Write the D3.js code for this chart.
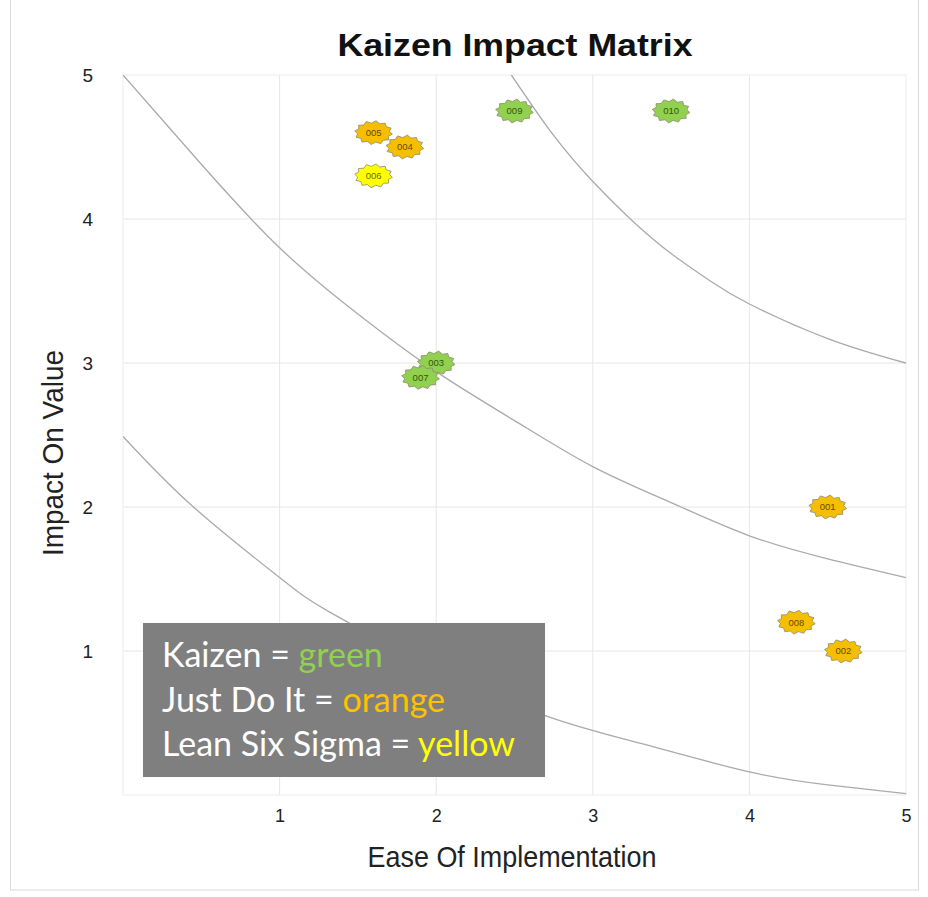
<!DOCTYPE html>
<html>
<head>
<meta charset="utf-8">
<script src="https://cdn.jsdelivr.net/npm/d3@7"></script>
<style>
  body { margin: 0; background: #fff; }
  svg { display: block; }
</style>
</head>
<body>
<div id="chart"></div>
<script>
// data
const ids = ['001', '002', '003', '004', '005', '006', '007', '008', '009', '010']
const ease = [4.5, 4.6, 2.0, 1.8, 1.6, 1.6, 1.9, 4.3, 2.5, 3.5]
const impact = [2.0, 1.0, 3.0, 4.5, 4.6, 4.3, 2.9, 1.2, 4.75, 4.75]
const types = ['orange', 'orange', 'green', 'orange', 'orange', 'yellow', 'green', 'orange', 'green', 'green']

const xTicks = [1, 2, 3, 4, 5]
const yTicks = [1, 2, 3, 4, 5]

// guide curves
const lowCurveX = [0, 0.45, 1, 1.32, 2, 2.7, 3.3, 4, 4.5, 5]
const lowCurveY = [2.49, 2.0, 1.51, 1.27, 0.88, 0.55, 0.36, 0.16, 0.07, 0.01]
const midCurveX = [0, 0.5, 1, 1.5, 2, 2.5, 3, 3.5, 4, 4.5, 5]
const midCurveY = [5.0, 4.38, 3.8, 3.34, 2.94, 2.6, 2.28, 2.03, 1.8, 1.64, 1.51]
const highCurveX = [2.48, 2.75, 3.0, 3.25, 3.5, 3.75, 4.0, 4.5, 5.0]
const highCurveY = [5.0, 4.58, 4.26, 3.99, 3.76, 3.57, 3.41, 3.17, 3.0]

const legendLines = [
  { label: 'Kaizen = ', word: 'green' },
  { label: 'Just Do It = ', word: 'orange' },
  { label: 'Lean Six Sigma = ', word: 'yellow' },
]

const fills = { green: '#92d050', orange: '#f5bf00', yellow: '#ffff00' }
const inks = { green: '#2f5a0c', orange: '#6b4a00', yellow: '#6b6b00' }
const legendInks = { green: '#92d050', orange: '#ffc000', yellow: '#ffff00' }

/*----------------------------------------------------------------------------*/

const width = 928
const height = 897
const plot = { left: 123, right: 906, top: 75, bottom: 795 }

const svg = d3.select('#chart').append('svg')
  .attr('width', width)
  .attr('height', height)

// outer frame
svg.append('rect')
  .attr('x', 10.5).attr('y', -1)
  .attr('width', 908).attr('height', 891)
  .attr('fill', 'none')
  .attr('stroke', '#d9d9d9')

const x = d3.scaleLinear().domain([0, 5]).range([plot.left, plot.right])
const y = d3.scaleLinear().domain([0, 5]).range([plot.bottom, plot.top])

// grid
svg.append('g')
  .selectAll('line')
  .data(xTicks.slice(0, -1))
  .enter()
  .append('line')
  .attr('x1', d => x(d)).attr('x2', d => x(d))
  .attr('y1', plot.top).attr('y2', plot.bottom)
  .attr('stroke', '#e6e6e6')

svg.append('g')
  .selectAll('line')
  .data(yTicks.slice(0, -1))
  .enter()
  .append('line')
  .attr('x1', plot.left).attr('x2', plot.right)
  .attr('y1', d => y(d)).attr('y2', d => y(d))
  .attr('stroke', '#e6e6e6')

svg.append('rect')
  .attr('x', plot.left).attr('y', plot.top)
  .attr('width', plot.right - plot.left).attr('height', plot.bottom - plot.top)
  .attr('fill', 'none')
  .attr('stroke', '#ececec')

// tick labels
const tickFont = '"Liberation Sans", Arial, sans-serif'

const xAxis = d3.axisBottom(x).tickValues(xTicks).tickFormat(d3.format('d'))
  .tickSize(0).tickPadding(14)
const gx = svg.append('g').attr('transform', `translate(0, ${plot.bottom})`).call(xAxis)
gx.select('.domain').remove()
gx.selectAll('text')
  .attr('font-family', tickFont)
  .attr('font-size', 18)
  .attr('fill', '#222')

const yAxis = d3.axisLeft(y).tickValues(yTicks).tickFormat(d3.format('d'))
  .tickSize(0).tickPadding(30)
const gy = svg.append('g').attr('transform', `translate(${plot.left}, 0)`).call(yAxis)
gy.select('.domain').remove()
gy.selectAll('text')
  .attr('font-family', tickFont)
  .attr('font-size', 19)
  .attr('fill', '#222')

// axis titles
svg.append('text')
  .attr('x', 512).attr('y', 867)
  .attr('text-anchor', 'middle')
  .attr('font-family', tickFont)
  .attr('font-size', 29)
  .attr('textLength', 289)
  .attr('lengthAdjust', 'spacingAndGlyphs')
  .attr('fill', '#222')
  .text('Ease Of Implementation')

svg.append('text')
  .attr('transform', 'translate(63, 453) rotate(-90)')
  .attr('text-anchor', 'middle')
  .attr('font-family', tickFont)
  .attr('font-size', 29)
  .attr('textLength', 206)
  .attr('lengthAdjust', 'spacingAndGlyphs')
  .attr('fill', '#222')
  .text('Impact On Value')

// title
svg.append('text')
  .attr('x', 515).attr('y', 56)
  .attr('text-anchor', 'middle')
  .attr('font-family', tickFont)
  .attr('font-weight', 'bold')
  .attr('font-size', 31)
  .attr('textLength', 355)
  .attr('lengthAdjust', 'spacingAndGlyphs')
  .attr('fill', '#111')
  .text('Kaizen Impact Matrix')

// guide curves
svg.append('clipPath').attr('id', 'plot-clip')
  .append('rect')
  .attr('x', plot.left).attr('y', plot.top)
  .attr('width', plot.right - plot.left).attr('height', plot.bottom - plot.top)

const line = d3.line()
  .x(d => x(d[0]))
  .y(d => y(d[1]))
  .curve(d3.curveNatural)

const curves = [
  d3.zip(lowCurveX, lowCurveY),
  d3.zip(midCurveX, midCurveY),
  d3.zip(highCurveX, highCurveY),
]

svg.append('g')
  .attr('clip-path', 'url(#plot-clip)')
  .selectAll('path')
  .data(curves)
  .enter()
  .append('path')
  .attr('d', line)
  .attr('fill', 'none')
  .attr('stroke', '#aaaaaa')
  .attr('stroke-width', 1.3)

// star markers
const starPath = (rx, ry, irx, iry, n) => {
  const pts = []
  for (let i = 0; i < n * 2; i++) {
    const a = Math.PI * i / n + Math.PI / (2 * n)
    const outer = i % 2 === 0
    pts.push([Math.cos(a) * (outer ? rx : irx), Math.sin(a) * (outer ? ry : iry)])
  }
  return d3.line()(pts) + 'Z'
}

const marker = starPath(19, 12, 16, 9.5, 12)

const points = ids.map((id, i) => ({ id, x: ease[i], y: impact[i], type: types[i] }))

const g = svg.selectAll('.pt')
  .data(points)
  .enter()
  .append('g')
  .attr('class', 'pt')
  .attr('transform', d => `translate(${x(d.x)}, ${y(d.y)})`)

g.append('path')
  .attr('d', marker)
  .attr('fill', d => fills[d.type])
  .attr('stroke', '#8c8c6c')
  .attr('stroke-width', 0.8)

g.append('text')
  .attr('text-anchor', 'middle')
  .attr('dy', '0.35em')
  .attr('font-family', tickFont)
  .attr('font-size', 9.5)
  .attr('fill', d => inks[d.type])
  .text(d => d.id)

// legend box
svg.append('rect')
  .attr('x', 143).attr('y', 623)
  .attr('width', 402).attr('height', 154)
  .attr('fill', '#7f7f7f')

const legendText = svg.append('g')
  .selectAll('text')
  .data(legendLines)
  .enter()
  .append('text')
  .attr('x', 162)
  .attr('y', (d, i) => 667 + i * 44.5)
  .attr('font-family', 'Lato, "Open Sans", sans-serif')
  .attr('font-size', 34)
  .attr('fill', '#fff')

legendText.append('tspan').text(d => d.label)
legendText.append('tspan')
  .attr('fill', d => legendInks[d.word])
  .text(d => d.word)
</script>
</body>
</html>
